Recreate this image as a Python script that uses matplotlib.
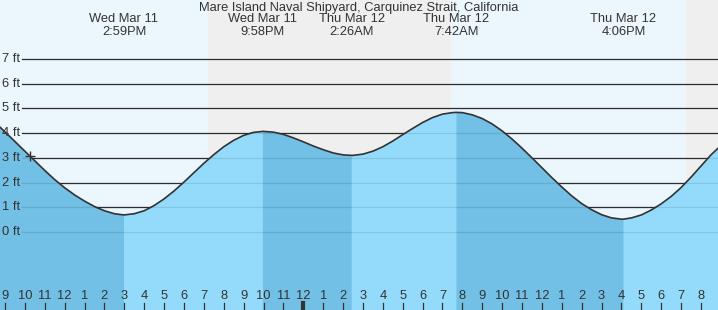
import matplotlib
matplotlib.use('Agg')
import matplotlib.pyplot as plt
import numpy as np

plt.rcParams['font.family'] = ['Liberation Sans', 'DejaVu Sans']

# tide height (ft) every half hour; hours counted from Wed Mar 11 00:00
hours = [8.0, 8.5, 9.0, 9.5, 10.0, 10.5, 11.0, 11.5, 12.0, 12.5, 13.0, 13.5, 14.0, 14.5,
         15.5, 16.0, 16.5, 17.0, 17.5, 18.0, 18.5, 19.0, 19.5, 20.0, 20.5, 21.0, 21.5,
         22.0, 22.5, 23.0, 23.5, 24.0, 24.5, 25.0, 25.5, 26.0,
         26.5, 27.0, 27.5, 28.0, 28.5, 29.0, 29.5, 30.0, 30.5, 31.0, 31.5,
         32.0, 32.5, 33.0, 33.5, 34.0, 34.5, 35.0, 35.5, 36.0, 36.5, 37.0, 37.5, 38.0,
         38.5, 39.0, 39.5, 40.0,
         40.5, 41.0, 41.5, 42.0, 42.5, 43.0, 43.5, 44.0, 44.5, 45.0]
heights = [4.80, 4.43, 4.05, 3.66, 3.27, 2.88, 2.49, 2.12, 1.79, 1.50, 1.25, 1.03, 0.86, 0.74,
           0.74, 0.86, 1.07, 1.34, 1.66, 2.02, 2.40, 2.78, 3.13, 3.45, 3.71, 3.91, 4.03,
           4.07, 4.04, 3.95, 3.81, 3.65, 3.48, 3.33, 3.20, 3.12,
           3.10, 3.15, 3.27, 3.45, 3.68, 3.94, 4.19, 4.43, 4.63, 4.77, 4.83,
           4.83, 4.74, 4.59, 4.37, 4.09, 3.76, 3.39, 3.00, 2.60, 2.20, 1.82, 1.46, 1.15,
           0.90, 0.70, 0.57, 0.52,
           0.57, 0.69, 0.89, 1.14, 1.44, 1.80, 2.22, 2.67, 3.12, 3.50]

# high / low tides
ext_hours = [14.983, 21.967, 26.433, 31.70, 40.10]
ext_heights = [0.69, 4.07, 3.10, 4.84, 0.52]
ext_days = ['Wed Mar 11', 'Wed Mar 11', 'Thu Mar 12', 'Thu Mar 12', 'Thu Mar 12']
ext_times = ['2:59PM', '9:58PM', '2:26AM', '7:42AM', '4:06PM']

# night (sunset -> sunrise)
nights = [(19.208, 31.428), (43.245, 48.0)]

now_hour = 10.26
now_height = 3.07

title = 'Mare Island Naval Shipyard, Carquinez Strait, California'
ft_levels = [0, 1, 2, 3, 4, 5, 6, 7]
tick_hours = list(range(9, 45))
tick_labels = [str((h - 1) % 12 + 1) for h in tick_hours]

day_bg = '#ecf6fd'
night_bg = '#efefef'
fill_light = '#94dbfb'
fill_dark = '#72c0e5'
ink = '#333333'
fs = 9.3

t = np.array(hours + ext_hours, dtype=float)
h = np.array(heights + ext_heights, dtype=float)
order = np.argsort(t)
t, h = t[order], h[order]

fig = plt.figure(figsize=(7.18, 3.10), dpi=100, facecolor=day_bg)
ax = fig.add_axes([0, 0, 1, 1])
ax.set_xlim(8.7486, 44.854)
ax.set_ylim(-3.156, 9.387)
ax.axis('off')

for a, b in nights:
    ax.axvspan(a, b, color=night_bg, lw=0, zorder=0)

for lv in ft_levels:
    ax.axhline(lv, xmin=22 / 718, color=ink, lw=0.9, zorder=1)

bottom = -10
ax.fill_between(t, h, bottom, color=fill_light, lw=0, zorder=2)
# falling tide -> darker band
bounds = [t[0]] + ext_hours
for i in range(len(ext_hours)):
    if i == 0 or ext_heights[i - 1] > ext_heights[i]:
        a, b = bounds[i], bounds[i + 1]
        m = (t >= a) & (t <= b)
        ax.fill_between(t[m], h[m], bottom, color=fill_dark, lw=0, zorder=2)

for lv in ft_levels:
    ax.axhline(lv, xmin=22 / 718, color='k', alpha=0.1, lw=0.9, zorder=3)

ax.plot(t, h, color=ink, lw=1.2, zorder=4, solid_joinstyle='round')
ax.plot([now_hour], [now_height], marker='+', ms=7, mew=1.0, color=ink, zorder=5)

ytr = ax.get_yaxis_transform()
for lv in ft_levels:
    ax.text(20 / 718, lv, f'{lv} ft', ha='right', va='center', fontsize=fs,
            color=ink, transform=ytr, zorder=6)

xtr = ax.get_xaxis_transform()
for hr, lab in zip(tick_hours, tick_labels):
    lw = 3 if hr % 24 == 0 else 0.9
    ax.plot([hr, hr], [0, 7 / 310], color=ink, lw=lw, transform=xtr, zorder=6, clip_on=False)
    ax.text(hr, 14 / 310, lab, ha='center', va='center', fontsize=fs, color=ink,
            transform=xtr, zorder=6)

for x, d, s in zip(ext_hours, ext_days, ext_times):
    ax.text(x, 1 - 19.5 / 310, d, ha='center', va='center', fontsize=fs, color=ink, transform=xtr)
    ax.text(x, 1 - 32 / 310, s, ha='center', va='center', fontsize=fs, color=ink, transform=xtr)

fig.text(0.5, 1 - 7.5 / 310, title, ha='center', va='center', fontsize=fs, color=ink)

fig.savefig('out.png', dpi=100, facecolor=day_bg)
